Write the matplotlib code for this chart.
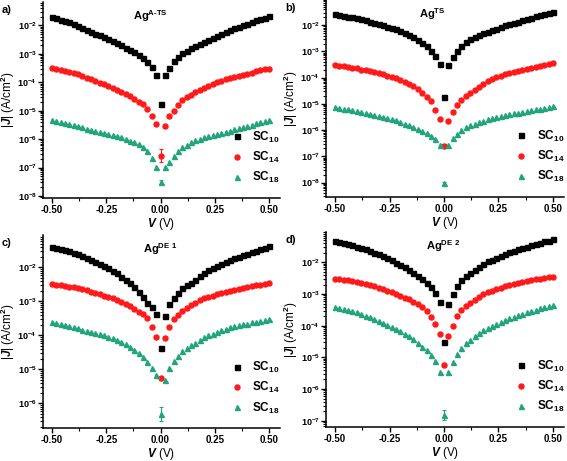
import matplotlib
matplotlib.use('Agg')
import matplotlib.pyplot as plt
import numpy as np
from matplotlib.ticker import FuncFormatter, LogLocator, MultipleLocator, NullFormatter

plt.rcParams['font.family'] = ['Liberation Sans', 'DejaVu Sans']
plt.rcParams['font.weight'] = 'bold'
plt.rcParams['mathtext.fontset'] = 'custom'
plt.rcParams['mathtext.rm'] = 'Liberation Sans:bold'
plt.rcParams['mathtext.it'] = 'Liberation Sans:italic:bold'
plt.rcParams['mathtext.bf'] = 'Liberation Sans:bold'

# bias voltage (V)
V = [-0.50, -0.48, -0.46, -0.44, -0.42, -0.40, -0.38, -0.36, -0.34, -0.32,
     -0.30, -0.28, -0.26, -0.24, -0.22, -0.20, -0.18, -0.16, -0.14, -0.12,
     -0.10, -0.08, -0.06, -0.04, -0.02, 0.00, 0.02, 0.04, 0.06, 0.08,
     0.10, 0.12, 0.14, 0.16, 0.18, 0.20, 0.22, 0.24, 0.26, 0.28,
     0.30, 0.32, 0.34, 0.36, 0.38, 0.40, 0.42, 0.44, 0.46, 0.48, 0.50]

# log10|J|, panel a) Ag A-TS
a_sc10 = [-1.71, -1.75, -1.80, -1.85, -1.90, -1.96, -2.02, -2.09, -2.15, -2.22,
          -2.29, -2.35, -2.42, -2.48, -2.55, -2.62, -2.70, -2.78, -2.86, -2.95,
          -3.05, -3.16, -3.30, -3.47, -3.75, -4.75, -3.75, -3.49, -3.27, -3.11,
          -2.99, -2.89, -2.80, -2.72, -2.65, -2.58, -2.51, -2.44, -2.37, -2.30,
          -2.23, -2.17, -2.11, -2.05, -2.00, -1.94, -1.89, -1.83, -1.78, -1.73, -1.68]
a_sc14 = [-3.50, -3.53, -3.56, -3.59, -3.63, -3.67, -3.72, -3.78, -3.84, -3.90,
          -3.96, -4.02, -4.08, -4.15, -4.21, -4.28, -4.35, -4.42, -4.50, -4.59,
          -4.68, -4.78, -4.95, -5.18, -5.48, -6.58, -5.53, -5.20, -5.02, -4.80,
          -4.63, -4.53, -4.44, -4.35, -4.27, -4.19, -4.12, -4.06, -4.00, -3.95,
          -3.90, -3.85, -3.81, -3.77, -3.73, -3.70, -3.66, -3.62, -3.58, -3.55, -3.52]
a_sc18 = [-5.32, -5.36, -5.39, -5.42, -5.46, -5.51, -5.55, -5.59, -5.63, -5.67,
          -5.71, -5.75, -5.78, -5.82, -5.85, -5.88, -5.93, -5.99, -6.05, -6.11,
          -6.18, -6.27, -6.41, -6.65, -6.98, -7.51, -6.98, -6.82, -6.61, -6.42,
          -6.29, -6.19, -6.11, -6.04, -5.98, -5.94, -5.90, -5.86, -5.82, -5.78,
          -5.74, -5.70, -5.65, -5.61, -5.57, -5.53, -5.49, -5.45, -5.41, -5.37, -5.32]

# panel b) Ag TS
b_sc10 = [-1.58, -1.61, -1.64, -1.67, -1.70, -1.74, -1.78, -1.82, -1.87, -1.91,
          -1.96, -2.01, -2.06, -2.11, -2.16, -2.22, -2.29, -2.37, -2.46, -2.56,
          -2.67, -2.81, -2.97, -3.17, -3.49, -4.72, -3.53, -3.20, -2.98, -2.80,
          -2.65, -2.54, -2.45, -2.38, -2.31, -2.25, -2.19, -2.13, -2.07, -2.01,
          -1.96, -1.91, -1.86, -1.81, -1.76, -1.71, -1.66, -1.62, -1.57, -1.53, -1.48]
b_sc14 = [-3.52, -3.54, -3.57, -3.59, -3.62, -3.65, -3.69, -3.72, -3.76, -3.80,
          -3.84, -3.88, -3.93, -3.98, -4.03, -4.09, -4.16, -4.24, -4.33, -4.44,
          -4.57, -4.72, -4.90, -5.22, -5.58, -6.62, -5.67, -5.31, -5.03, -4.86,
          -4.71, -4.58, -4.46, -4.36, -4.25, -4.14, -4.06, -3.99, -3.93, -3.88,
          -3.83, -3.78, -3.74, -3.70, -3.66, -3.62, -3.58, -3.54, -3.50, -3.47, -3.43]
b_sc18 = [-5.12, -5.15, -5.18, -5.21, -5.24, -5.27, -5.30, -5.33, -5.37, -5.41,
          -5.45, -5.49, -5.53, -5.58, -5.63, -5.69, -5.75, -5.82, -5.89, -5.96,
          -6.04, -6.12, -6.22, -6.33, -6.56, -8.03, -6.58, -6.30, -6.13, -6.00,
          -5.90, -5.82, -5.75, -5.69, -5.64, -5.59, -5.55, -5.51, -5.47, -5.43,
          -5.39, -5.36, -5.33, -5.30, -5.27, -5.24, -5.21, -5.18, -5.14, -5.11, -5.07]

# panel c) Ag DE 1
c_sc10 = [-1.41, -1.44, -1.47, -1.50, -1.53, -1.57, -1.62, -1.67, -1.72, -1.77,
          -1.83, -1.89, -1.96, -2.03, -2.10, -2.18, -2.27, -2.36, -2.46, -2.58,
          -2.72, -2.88, -3.04, -3.17, -3.38, -4.38, -3.43, -3.08, -2.91, -2.74,
          -2.62, -2.53, -2.45, -2.37, -2.26, -2.16, -2.09, -2.02, -1.96, -1.89,
          -1.83, -1.78, -1.73, -1.69, -1.65, -1.61, -1.56, -1.51, -1.46, -1.42, -1.37]
c_sc14 = [-2.49, -2.51, -2.53, -2.55, -2.57, -2.59, -2.62, -2.65, -2.68, -2.71,
          -2.75, -2.79, -2.83, -2.87, -2.91, -2.96, -3.01, -3.07, -3.13, -3.21,
          -3.30, -3.38, -3.50, -3.75, -4.04, -5.26, -4.09, -3.75, -3.52, -3.39,
          -3.27, -3.18, -3.11, -3.04, -2.97, -2.91, -2.87, -2.83, -2.79, -2.75,
          -2.72, -2.69, -2.66, -2.63, -2.60, -2.58, -2.55, -2.53, -2.51, -2.49, -2.47]
c_sc18 = [-3.60, -3.63, -3.66, -3.69, -3.72, -3.75, -3.79, -3.83, -3.87, -3.90,
          -3.94, -3.97, -4.00, -4.04, -4.09, -4.14, -4.20, -4.26, -4.33, -4.42,
          -4.53, -4.64, -4.77, -4.95, -5.17, -6.30, -5.31, -4.95, -4.75, -4.60,
          -4.45, -4.36, -4.29, -4.21, -4.13, -4.06, -4.00, -3.95, -3.90, -3.85,
          -3.80, -3.76, -3.73, -3.70, -3.67, -3.65, -3.62, -3.60, -3.57, -3.55, -3.53]

# panel d) Ag DE 2
d_sc10 = [-1.32, -1.35, -1.39, -1.42, -1.46, -1.50, -1.54, -1.59, -1.64, -1.69,
          -1.75, -1.81, -1.87, -1.94, -2.01, -2.08, -2.16, -2.24, -2.33, -2.43,
          -2.54, -2.65, -2.78, -2.97, -3.26, -4.52, -3.31, -2.99, -2.74, -2.55,
          -2.42, -2.32, -2.23, -2.14, -2.05, -1.97, -1.91, -1.85, -1.79, -1.73,
          -1.68, -1.63, -1.59, -1.55, -1.50, -1.46, -1.42, -1.38, -1.34, -1.31, -1.27]
d_sc14 = [-2.51, -2.53, -2.55, -2.57, -2.59, -2.61, -2.64, -2.68, -2.72, -2.76,
          -2.80, -2.84, -2.89, -2.94, -2.99, -3.05, -3.11, -3.17, -3.24, -3.32,
          -3.42, -3.55, -3.72, -3.96, -4.26, -5.23, -4.34, -4.02, -3.69, -3.50,
          -3.37, -3.27, -3.18, -3.08, -3.00, -2.94, -2.89, -2.85, -2.80, -2.75,
          -2.70, -2.67, -2.64, -2.61, -2.58, -2.56, -2.54, -2.52, -2.50, -2.47, -2.45]
d_sc18 = [-3.40, -3.43, -3.47, -3.51, -3.54, -3.58, -3.63, -3.68, -3.74, -3.79,
          -3.85, -3.91, -3.98, -4.04, -4.11, -4.18, -4.26, -4.34, -4.43, -4.54,
          -4.66, -4.78, -4.93, -5.13, -5.45, -6.82, -5.47, -5.15, -4.88, -4.70,
          -4.55, -4.44, -4.34, -4.24, -4.15, -4.07, -4.00, -3.94, -3.88, -3.82,
          -3.75, -3.71, -3.66, -3.62, -3.57, -3.53, -3.49, -3.45, -3.41, -3.37, -3.34]

# error (in decades) of the V = 0 point, [SC10, SC14, SC18]
a_err0 = [0.06, 0.22, 0.08]
b_err0 = [0.05, 0.08, 0.07]
c_err0 = [0.05, 0.05, 0.20]
d_err0 = [0.05, 0.06, 0.15]

labels = ['SC$_{10}$', 'SC$_{14}$', 'SC$_{18}$']
colors = ['black', '#ff1a1a', '#22a57c']
markers = ['s', 'o', '^']

panels = [
    ('a)', r'Ag$^{\mathrm{A\text{-}TS}}$', [a_sc10, a_sc14, a_sc18], a_err0,
     [43, 2, 280, 198], (-8.07, -1.18), 150),
    ('b)', r'Ag$^{\mathrm{TS}}$', [b_sc10, b_sc14, b_sc18], b_err0,
     [326, 0, 564, 197], (-8.55, -1.04), 432),
    ('c)', r'Ag$^{\mathrm{DE\ 1}}$', [c_sc10, c_sc14, c_sc18], c_err0,
     [43, 235, 280, 428], (-6.72, -1.05), 160),
    ('d)', r'Ag$^{\mathrm{DE\ 2}}$', [d_sc10, d_sc14, d_sc18], d_err0,
     [326, 232, 564, 427], (-7.2, -1.04), 443),
]

W, H = 567, 461
fig = plt.figure(figsize=(W / 100, H / 100), dpi=100)

def yfmt(y, pos):
    e = int(round(np.log10(y)))
    return r'$\mathbf{10^{%d}}$' % e

for letter, title, series, err0, box, ylim, tx in panels:
    x0, y0, x1, y1 = box
    ax = fig.add_axes([x0 / W, 1 - y1 / H, (x1 - x0) / W, (y1 - y0) / H])
    V_arr = np.array(V)
    for lg, e0, lab, c, m in zip(series, err0, labels, colors, markers):
        J = 10 ** np.array(lg)
        ax.plot(V_arr, J, linestyle='none', marker=m, color=c, ms=3.6,
                mec=c, label=lab)
        # error bar on the zero-bias point
        jc = J[25]
        lo = jc - 10 ** (np.log10(jc) - e0)
        hi = 10 ** (np.log10(jc) + e0) - jc
        ax.errorbar([V[25]], [jc], yerr=[[lo], [hi]], fmt='none', ecolor=c,
                    elinewidth=0.8, capsize=1.5, capthick=0.8)
    ax.set_yscale('log')
    dx = 217.0
    ax.set_xlim(-0.5 - 9 / dx, 0.5 + 11 / dx)
    ax.set_ylim(10 ** ylim[0], 10 ** ylim[1])
    ax.xaxis.set_major_locator(MultipleLocator(0.25))
    ax.xaxis.set_minor_locator(MultipleLocator(0.125))
    ax.xaxis.set_major_formatter(FuncFormatter(lambda x, p: '%.2f' % x))
    ax.yaxis.set_major_locator(LogLocator(base=10, numticks=20))
    ax.yaxis.set_minor_locator(LogLocator(base=10, subs=np.arange(2, 10), numticks=20))
    ax.yaxis.set_major_formatter(FuncFormatter(yfmt))
    ax.yaxis.set_minor_formatter(NullFormatter())
    for s in ['top', 'right']:
        ax.spines[s].set_visible(False)
    for s in ['left', 'bottom']:
        ax.spines[s].set_linewidth(1.1)
    ax.tick_params(which='major', direction='out', length=3.5, width=1.0,
                   labelsize=7, pad=1.5)
    ax.tick_params(axis='y', which='major', labelsize=6.5, pad=1)
    ax.tick_params(which='minor', direction='out', length=2, width=0.8)
    ax.set_xlabel(r'$\mathit{V}$ (V)', fontsize=8.5, labelpad=1)
    ax.set_ylabel(r'|$\mathit{J}$| (A/cm$^{2}$)', fontsize=8.5, labelpad=0)
    fig.text(tx / W, 1 - (y0 + 14) / H, title, fontsize=8, ha='center', va='center')
    fig.text((x0 - 41) / W, 1 - (y0 + 8) / H, letter, fontsize=8, ha='left', va='center')
    ax.legend(loc='lower right', bbox_to_anchor=(1.02, 0.04), frameon=False,
              fontsize=8.5, handlelength=0.8, handletextpad=0.9, labelspacing=0.45,
              borderaxespad=0, markerscale=1.0)

fig.savefig('out.png', dpi=100)
